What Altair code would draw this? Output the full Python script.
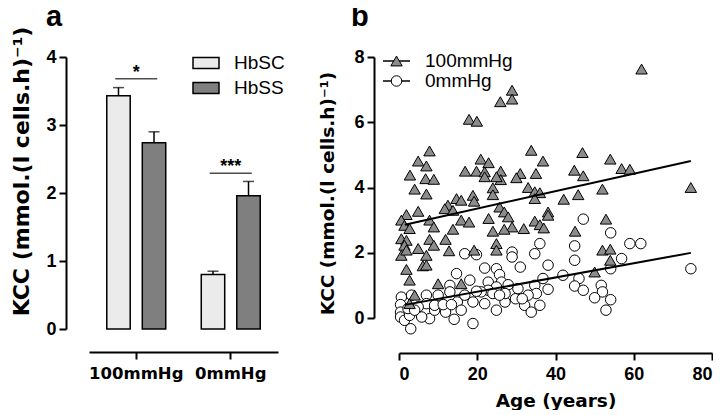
import altair as alt
import pandas as pd

FONT = "Liberation Sans"
BOLD_FONT = "DejaVu Sans"

# ---------------- Panel a: bar chart ----------------
bar_cond = ["100mmHg", "100mmHg", "0mmHg", "0mmHg"]
bar_group = ["HbSC", "HbSS", "HbSC", "HbSS"]
bar_mean = [3.43, 2.74, 0.80, 1.96]
bar_upper = [3.55, 2.90, 0.85, 2.17]

sig_cond = ["100mmHg", "0mmHg"]
sig_line = [3.68, 2.29]
sig_label = ["*", "***"]

cond_order = ["100mmHg", "0mmHg"]
group_order = ["HbSC", "HbSS"]
group_colors = ["#ebebeb", "#7f7f7f"]

panel_letters = ["a", "b"]

# ---------------- Panel b: scatter ----------------
t_age = [62, 28.9, 28.9, 25.9, 17.9, 19.9, 7.8, 33.8, 46.9, 4.9,
         7.0, 2.8, 20.9, 22.9, 36.8, 54, 56.9, 59, 44.8, 47.1,
         16.9, 19.8, 21.9, 21.9, 26, 26, 24.9, 31, 30, 35,
         6.8, 8.9, 4.0, 7, 33, 24, 24, 34.7, 36, 42.1,
         45.8, 52, 18.9, 19.2, 14.7, 15.9, 12.5, 11.7, 13.8, 4.9,
         25.7, 26.9, 27.9, 34.7, 38.1, 38.1, 1.9, 0.6, 1.4, 2.7,
         7.8, 8.9, 15.9, 17.9, 22.9, 28.9, 26.9, 31.9, 34.7, 36,
         37, 24, 13.8, 52.9, 45, 0.6, 1.9, 7.8, 11.9, 1.4,
         8.9, 24.9, 0.6, 1.9, 4.9, 12.8, 19.2, 24.9, 7, 52,
         54, 6.1, 7, 1.9, 54, 2.7, 10, 15.9, 50, 4,
         2.7, 74.6]
t_val = [7.63, 6.98, 6.71, 6.63, 6.09, 6.03, 5.12, 5.14, 5.07, 4.81,
         4.66, 4.38, 4.87, 4.76, 4.81, 4.87, 4.58, 4.56, 4.53, 4.36,
         4.50, 4.50, 4.48, 4.33, 4.50, 4.24, 4.33, 4.43, 4.30, 4.43,
         4.27, 4.25, 3.95, 3.80, 4.00, 3.99, 3.78, 3.87, 3.84, 3.64,
         3.78, 3.95, 3.76, 3.58, 3.66, 3.61, 3.46, 3.35, 3.30, 3.27,
         3.40, 3.25, 3.10, 3.66, 3.25, 3.15, 3.17, 3.00, 2.84, 2.74,
         3.00, 2.79, 3.00, 2.94, 3.05, 2.79, 2.72, 2.74, 2.97, 2.86,
         2.76, 2.66, 2.72, 3.03, 2.66, 2.43, 2.38, 2.41, 2.41, 2.23,
         2.23, 2.28, 1.92, 2.08, 2.13, 2.06, 2.08, 2.08, 1.92, 2.08,
         2.11, 1.60, 1.62, 1.49, 1.77, 1.16, 1.05, 1.05, 1.41, 0.70,
         0.44, 4.00]

c_age = [47.1, 54.1, 44.9, 59, 61.8, 36, 34.7, 28.9, 28.9, 16.8,
         19.8, 56.9, 44.9, 38.1, 31, 21.9, 24.9, 25.7, 74.6, 54.1,
         14.7, 18.1, 26.2, 27.9, 36.8, 41.9, 46, 44.9, 47.1, 51.7,
         52, 50, 54.1, 52.9, 13, 13, 22.8, 24.9, 22.8, 38.1,
         34.7, 35.1, 33, 29.8, 32.1, 33.8, 36, 21, 19.8, 18.9,
         18.9, 21.9, 24.9, 27.1, 27.1, 24, 25.7, 14.9, 15.9, 14.1,
         11.9, 10, 7, 7, 7.8, 5.8, 4.9, 3.2, 0.6, 0.4,
         0.4, 0.4, 1.4, 2.7, 3, 2.3, 4, 9.1, 9.1, 11.3,
         13.4, 16.8, 30.4, 31.5]
c_val = [3.03, 2.61, 2.21, 2.28, 2.28, 2.28, 1.97, 2.02, 1.87, 1.97,
         1.94, 1.82, 1.77, 1.62, 1.56, 1.53, 1.51, 1.33, 1.51, 1.51,
         1.36, 1.16, 1.10, 1.02, 1.21, 1.31, 1.21, 0.98, 0.85, 1.00,
         0.80, 0.62, 0.56, 0.24, 1.00, 0.80, 1.10, 0.95, 0.85, 0.88,
         1.00, 0.75, 0.70, 0.59, 0.39, 0.18, 0.39, 0.80, 0.82, 0.49,
         -0.17, 0.44, 0.24, 0.49, 0.75, 0.75, 0.70, 0.49, 0.24, -0.04,
         0.18, 0.70, 0.70, 0.44, -0.02, 0.03, 0.34, 0.70, 0.64, 0.41,
         0.18, 0.03, -0.07, 0.08, -0.33, 0.29, 0.24, 0.24, 0.39, 0.41,
         0.41, 0.70, 0.90, 0.59]

fit_series = ["100mmHg", "0mmHg"]
fit_intercept = [2.82, 0.37]
fit_slope = [0.0267, 0.0218]
fit_range = [1.5, 74.6]

legend_b = ["100mmHg", "0mmHg"]

y_title = "KCC (mmol.(l cells.h)\u207b\u00b9)"

# ---------------- build panel a ----------------
bars_df = pd.DataFrame({"cond": bar_cond, "group": bar_group,
                        "mean": bar_mean, "upper": bar_upper})
sig_df = pd.DataFrame({"cond": sig_cond, "yl": sig_line, "label": sig_label})

x_a = alt.X("cond:N", sort=cond_order,
            scale=alt.Scale(paddingInner=0, paddingOuter=0),
            axis=alt.Axis(title=None, offset=23, tickSize=7, labelFontSize=16.5,
                          labelFont=BOLD_FONT, labelPadding=6, labelAngle=0))
xo = alt.XOffset("group:N", sort=group_order,
                 scale=alt.Scale(paddingInner=0.34, paddingOuter=0.5))
y_a = alt.Y("mean:Q", scale=alt.Scale(domain=[0, 4]),
            axis=alt.Axis(title=y_title, values=[0, 1, 2, 3, 4], format="d",
                          offset=23, tickSize=7, labelFontSize=18, labelPadding=3,
                          titleFontSize=22, titlePadding=12, titleY=114))

bars = alt.Chart(bars_df).mark_bar(stroke="black", strokeWidth=1.5).encode(
    x=x_a, xOffset=xo, y=y_a,
    fill=alt.Fill("group:N", sort=group_order,
                  scale=alt.Scale(domain=group_order, range=group_colors),
                  legend=alt.Legend(title=None, orient="none", legendX=103,
                                    legendY=-8,
                                    symbolType="M-1,-0.42H1V0.42H-1Z",
                                    symbolSize=676, symbolStrokeColor="black",
                                    symbolStrokeWidth=1.5, labelFontSize=19,
                                    labelFont=FONT, labelOffset=14,
                                    rowPadding=1, labelColor="black")))
err = alt.Chart(bars_df).mark_rule(color="black", strokeWidth=1.5).encode(
    x=alt.X("cond:N", sort=cond_order), xOffset=alt.XOffset("group:N", sort=group_order),
    y="mean:Q", y2="upper:Q")
caps = alt.Chart(bars_df).mark_tick(color="black", thickness=1.5, size=11,
                                    orient="horizontal").encode(
    x=alt.X("cond:N", sort=cond_order), xOffset=alt.XOffset("group:N", sort=group_order),
    y=alt.Y("upper:Q"))
sig_rule = alt.Chart(sig_df).mark_tick(color="black", thickness=1.5, size=42,
                                       orient="horizontal").encode(
    x=alt.X("cond:N", sort=cond_order), y=alt.Y("yl:Q"))
sig_text = alt.Chart(sig_df).mark_text(fontSize=18, fontWeight="bold", font=FONT,
                                       baseline="alphabetic", dy=-1,
                                       color="black").encode(
    x=alt.X("cond:N", sort=cond_order), y=alt.Y("yl:Q"), text="label:N")
letter_a = alt.Chart(pd.DataFrame({"t": [panel_letters[0]]})).mark_text(
    align="left", baseline="alphabetic", fontSize=29, fontWeight="bold",
    font=FONT, color="black").encode(x=alt.value(-43), y=alt.value(-31), text="t:N")

panel_a = alt.layer(bars, err, caps, sig_rule, sig_text, letter_a).properties(
    width=189, height=272)

# ---------------- build panel b ----------------
tri_df = pd.DataFrame({"age": t_age, "val": t_val})
cir_df = pd.DataFrame({"age": c_age, "val": c_val})
fit_rows = []
for s, b0, b1 in zip(fit_series, fit_intercept, fit_slope):
    for a in fit_range:
        fit_rows.append({"series": s, "age": a, "val": b0 + b1 * a})
fit_df = pd.DataFrame(fit_rows)

x_b = alt.X("age:Q", scale=alt.Scale(domain=[0, 80], nice=False),
            axis=alt.Axis(title="Age (years)", values=[0, 20, 40, 60, 80],
                          offset=35, tickSize=7, labelFontSize=18,
                          labelPadding=5, titleFontSize=18.5, titleFont=BOLD_FONT,
                          titlePadding=8))
y_b = alt.Y("val:Q", scale=alt.Scale(domain=[0, 8], nice=False),
            axis=alt.Axis(title=y_title, values=[0, 2, 4, 6, 8], offset=25,
                          tickSize=7, labelFontSize=18, labelPadding=3,
                          titleFontSize=18.5, titlePadding=16, titleY=136))

circles = alt.Chart(cir_df).mark_point(shape="circle", filled=True, fill="white",
                                       stroke="black", strokeWidth=1, size=110,
                                       opacity=1).encode(x=x_b, y=y_b)
triangles = alt.Chart(tri_df).mark_point(shape="triangle-up", filled=True,
                                         fill="#8c8c8c", stroke="black",
                                         strokeWidth=1, size=130,
                                         opacity=1).encode(x="age:Q", y="val:Q")
fits = alt.Chart(fit_df).mark_line(color="black", strokeWidth=2).encode(
    x="age:Q", y="val:Q", detail="series:N")

leg1 = pd.DataFrame({"label": [legend_b[0]]})
leg2 = pd.DataFrame({"label": [legend_b[1]]})
l1_line = alt.Chart(leg1).mark_rule(color="black", strokeWidth=1.5).encode(
    x=alt.value(-16), x2=alt.value(11), y=alt.value(4))
l1_sym = alt.Chart(leg1).mark_point(shape="triangle-up", filled=True, fill="#8c8c8c",
                                    stroke="black", strokeWidth=1, size=130,
                                    opacity=1).encode(x=alt.value(-2.5), y=alt.value(4))
l1_txt = alt.Chart(leg1).mark_text(align="left", baseline="middle", fontSize=19,
                                   font=FONT, color="black").encode(
    x=alt.value(26), y=alt.value(4), text="label:N")
l2_line = alt.Chart(leg2).mark_rule(color="black", strokeWidth=1.5).encode(
    x=alt.value(-16), x2=alt.value(11), y=alt.value(24))
l2_sym = alt.Chart(leg2).mark_point(shape="circle", filled=True, fill="white",
                                    stroke="black", strokeWidth=1, size=110,
                                    opacity=1).encode(x=alt.value(-2.5), y=alt.value(24))
l2_txt = alt.Chart(leg2).mark_text(align="left", baseline="middle", fontSize=19,
                                   font=FONT, color="black").encode(
    x=alt.value(26), y=alt.value(24), text="label:N")
letter_b = alt.Chart(pd.DataFrame({"t": [panel_letters[1]]})).mark_text(
    align="left", baseline="alphabetic", fontSize=29, fontWeight="bold",
    font=FONT, color="black").encode(x=alt.value(-48), y=alt.value(-31), text="t:N")

panel_b = alt.layer(circles, triangles, fits, l1_line, l1_sym, l1_txt,
                    l2_line, l2_sym, l2_txt, letter_b).properties(
    width=313, height=261)

chart = alt.hconcat(panel_a, panel_b, spacing=40).properties(
    padding={"left": 2, "top": -5, "right": 0, "bottom": 0}
).configure_view(stroke=None).configure_axis(
    grid=False, domainColor="black", tickColor="black", labelColor="black",
    titleColor="black", labelFont=FONT, titleFont=BOLD_FONT, domainWidth=2,
    tickWidth=2, labelFontWeight="bold", titleFontWeight="bold"
).configure_legend(labelFont=FONT)

chart.save("out.html", embed_options={"renderer": "svg", "actions": False})
